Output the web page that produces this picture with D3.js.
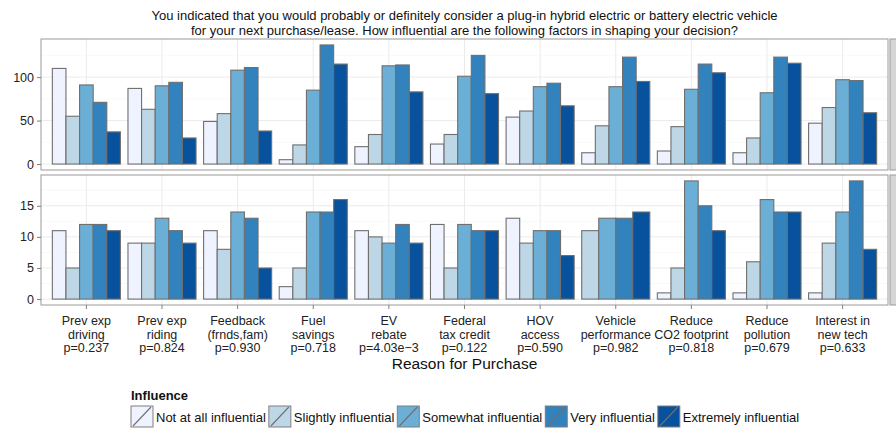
<!DOCTYPE html>
<html>
<head>
<meta charset="utf-8">
<script src="https://cdn.jsdelivr.net/npm/d3@7"></script>
<style>
  html, body { margin: 0; padding: 0; background: #fff; }
  svg { display: block; font-family: "Liberation Sans", Arial, Helvetica, sans-serif; }
</style>
</head>
<body>
<div id="chart"></div>
<script>
// categories (x axis), three lines per tick label
const categories = ['Prev exp driving', 'Prev exp riding', 'Feedback', 'Fuel savings', 'EV rebate',
  'Federal tax credit', 'HOV access', 'Vehicle performance', 'Reduce CO2', 'Reduce pollution', 'Interest'];
const labelLine1 = ['Prev exp', 'Prev exp', 'Feedback', 'Fuel', 'EV', 'Federal', 'HOV', 'Vehicle', 'Reduce', 'Reduce', 'Interest in'];
const labelLine2 = ['driving', 'riding', '(frnds,fam)', 'savings', 'rebate', 'tax credit', 'access', 'performance', 'CO2 footprint', 'pollution', 'new tech'];
const pValues = ['p=0.237', 'p=0.824', 'p=0.930', 'p=0.718', 'p=4.03e\u22123', 'p=0.122', 'p=0.590', 'p=0.982', 'p=0.818', 'p=0.679', 'p=0.633'];

const levels = ['Not at all influential', 'Slightly influential', 'Somewhat influential', 'Very influential', 'Extremely influential'];
const levelColors = ['#eff3ff', '#bdd7e7', '#6baed6', '#3182bd', '#08519c'];

// counts per category, one value per influence level (null = no respondents)
const nonEvCounts = [
  [110, 55, 91, 71, 37],
  [87, 63, 90, 94, 30],
  [49, 58, 108, 111, 38],
  [5, 22, 85, 137, 115],
  [20, 34, 113, 114, 83],
  [23, 34, 101, 125, 81],
  [54, 61, 89, 93, 67],
  [13, 44, 89, 123, 95],
  [15, 43, 86, 115, 105],
  [13, 30, 82, 123, 116],
  [47, 65, 97, 96, 59]
];
const evCounts = [
  [11, 5, 12, 12, 11],
  [9, 9, 13, 11, 9],
  [11, 8, 14, 13, 5],
  [2, 5, 14, 14, 16],
  [11, 10, 9, 12, 9],
  [12, 5, 12, 11, 11],
  [13, 9, 11, 11, 7],
  [null, 11, 13, 13, 14],
  [1, 5, 19, 15, 11],
  [1, 6, 16, 14, 14],
  [1, 9, 14, 19, 8]
];

const nonEvTicks = [0, 50, 100];
const nonEvMinor = [25, 75, 125];
const evTicks = [0, 5, 10, 15];
const evMinor = [2.5, 7.5, 12.5, 17.5];

const titleLines = [
  'You indicated that you would probably or definitely consider a plug-in hybrid electric or battery electric vehicle',
  'for your next purchase/lease. How influential are the following factors in shaping your decision?'
];

const W = 896, H = 432;
const svg = d3.select('#chart').append('svg').attr('width', W).attr('height', H);

const px0 = 41, px1 = 888;
const x = d3.scaleBand().domain(categories).range([px0, px1]).paddingInner(0.1).paddingOuter(0.15);

const panels = [
  { name: 'Non-EV Owner', data: nonEvCounts, top: 39, bottom: 170, ticks: nonEvTicks, minor: nonEvMinor },
  { name: 'EV Owner', data: evCounts, top: 175, bottom: 305, ticks: evTicks, minor: evMinor }
];

// Title
svg.append('g').selectAll('text').data(titleLines).join('text')
  .attr('x', (px0 + px1) / 2).attr('y', (d, i) => 20 + i * 14.5)
  .attr('text-anchor', 'middle').attr('font-size', '13px').attr('fill', '#111')
  .text(d => d);

panels.forEach(p => {
  const maxV = d3.max(p.data, r => d3.max(r));
  const y = d3.scaleLinear().domain([-maxV * 0.05, maxV * 1.05]).range([p.bottom, p.top]);
  const g = svg.append('g');

  g.append('rect').attr('x', px0).attr('y', p.top).attr('width', px1 - px0).attr('height', p.bottom - p.top)
    .attr('fill', '#fff');

  // minor + major grid
  g.selectAll('.gmin').data(p.minor).join('line')
    .attr('x1', px0).attr('x2', px1).attr('y1', d => y(d)).attr('y2', d => y(d))
    .attr('stroke', '#f5f5f5').attr('stroke-width', 0.6);
  g.selectAll('.gmaj').data(p.ticks).join('line')
    .attr('x1', px0).attr('x2', px1).attr('y1', d => y(d)).attr('y2', d => y(d))
    .attr('stroke', '#ebebeb').attr('stroke-width', 1);
  g.selectAll('.gx').data(categories).join('line')
    .attr('x1', d => x(d) + x.bandwidth() / 2).attr('x2', d => x(d) + x.bandwidth() / 2)
    .attr('y1', p.top).attr('y2', p.bottom)
    .attr('stroke', '#ebebeb').attr('stroke-width', 1);

  // bars
  categories.forEach((c, ci) => {
    const present = levels.map((l, li) => li).filter(li => p.data[ci][li] != null);
    const inner = d3.scaleBand().domain(present).range([x(c), x(c) + x.bandwidth()]);
    g.append('g').selectAll('rect').data(present).join('rect')
      .attr('x', li => inner(li)).attr('width', inner.bandwidth())
      .attr('y', li => y(p.data[ci][li])).attr('height', li => y(0) - y(p.data[ci][li]))
      .attr('fill', li => levelColors[li])
      .attr('stroke', '#6f6f6f').attr('stroke-width', 1.1);
  });

  // panel border
  g.append('rect').attr('x', px0).attr('y', p.top).attr('width', px1 - px0).attr('height', p.bottom - p.top)
    .attr('fill', 'none').attr('stroke', '#9a9a9a').attr('stroke-width', 1);

  // y axis
  g.append('g').attr('transform', `translate(${px0},0)`)
    .call(d3.axisLeft(y).tickValues(p.ticks).tickSize(4).tickPadding(3))
    .call(a => a.select('.domain').remove())
    .call(a => a.selectAll('.tick line').attr('stroke', '#7f7f7f'))
    .selectAll('text').attr('font-size', '12.5px').attr('fill', '#222')
    .attr('font-family', '"Liberation Sans", Arial, sans-serif');

  // strip (cut by the right edge, as in the original)
  svg.append('rect').attr('x', 890).attr('y', p.top).attr('width', 22).attr('height', p.bottom - p.top)
    .attr('fill', '#d6d6d6').attr('stroke', '#9a9a9a');
  svg.append('text')
    .attr('transform', `translate(897,${(p.top + p.bottom) / 2}) rotate(90)`)
    .attr('text-anchor', 'middle').attr('font-size', '12.5px').attr('fill', '#1a1a1a')
    .text(p.name);
});

// x axis (bottom panel)
const xa = svg.append('g').attr('transform', `translate(0,${panels[1].bottom})`)
  .call(d3.axisBottom(x).tickSize(4).tickFormat(''));
xa.select('.domain').remove();
xa.selectAll('.tick line').attr('stroke', '#7f7f7f');
xa.selectAll('.tick').each(function (d, i) {
  const t = d3.select(this).append('text')
    .attr('text-anchor', 'middle').attr('fill', '#222').attr('font-size', '12.5px')
    .attr('font-family', '"Liberation Sans", Arial, sans-serif');
  [labelLine1[i], labelLine2[i], pValues[i]].forEach((s, k) => {
    t.append('tspan').attr('x', 0).attr('y', 20 + k * 13.5).text(s);
  });
});

svg.append('text').attr('x', (px0 + px1) / 2).attr('y', 369)
  .attr('text-anchor', 'middle').attr('font-size', '15.5px').attr('fill', '#111')
  .text('Reason for Purchase');

// legend
const lg = svg.append('g');
lg.append('text').attr('x', 131).attr('y', 400).attr('font-size', '13px')
  .attr('font-weight', 'bold').attr('fill', '#111').text('Influence');
let lx = 131;
levels.forEach((l, i) => {
  const k = lg.append('g').attr('transform', `translate(${lx},406)`);
  k.append('rect').attr('width', 22).attr('height', 21)
    .attr('fill', levelColors[i]).attr('stroke', '#7f7f7f').attr('stroke-width', 1);
  k.append('line').attr('x1', 2).attr('y1', 20).attr('x2', 20).attr('y2', 1)
    .attr('stroke', '#6f6f6f').attr('stroke-width', 1.1);
  const t = k.append('text').attr('x', 25).attr('y', 15.5).attr('font-size', '13px')
    .attr('fill', '#111').text(l);
  lx += 25 + t.node().getComputedTextLength() + 3;
});
</script>
</body>
</html>
